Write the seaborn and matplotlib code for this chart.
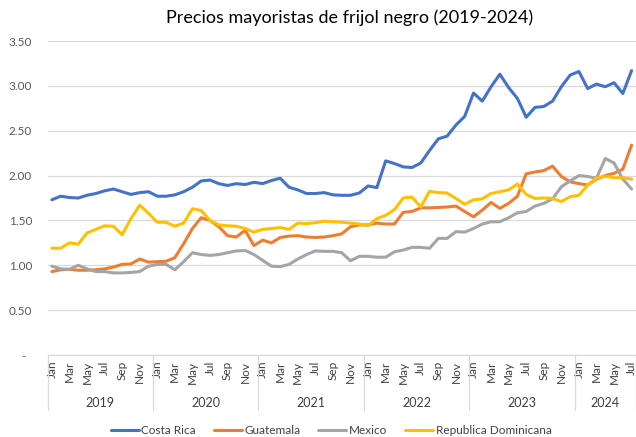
import seaborn as sns
import matplotlib.pyplot as plt
import matplotlib.transforms as mtransforms
import pandas as pd

# precios mensuales, ene 2019 - jul 2024
years = [2019, 2020, 2021, 2022, 2023, 2024]
month_names = ['Jan', 'Feb', 'Mar', 'Apr', 'May', 'Jun',
               'Jul', 'Aug', 'Sep', 'Oct', 'Nov', 'Dec']
months_last_year = 7

costa_rica = [1.73, 1.77, 1.755, 1.75, 1.78, 1.80, 1.83, 1.85, 1.82, 1.79, 1.81, 1.82,
              1.77, 1.77, 1.785, 1.82, 1.87, 1.94, 1.95, 1.91, 1.89, 1.91, 1.90, 1.925,
              1.91, 1.945, 1.97, 1.87, 1.84, 1.80, 1.80, 1.81, 1.785, 1.78, 1.78, 1.806,
              1.884, 1.866, 2.164, 2.134, 2.097, 2.09, 2.14, 2.28, 2.41, 2.44, 2.563, 2.66,
              2.92, 2.83, 2.99, 3.13, 2.98, 2.86, 2.65, 2.76, 2.77, 2.83, 2.99, 3.12,
              3.16, 2.97, 3.02, 2.99, 3.035, 2.915, 3.17]
guatemala = [0.93, 0.95, 0.955, 0.945, 0.945, 0.95, 0.96, 0.98, 1.01, 1.015, 1.07, 1.035,
             1.04, 1.045, 1.085, 1.24, 1.41, 1.53, 1.50, 1.43, 1.33, 1.315, 1.39, 1.22,
             1.28, 1.25, 1.31, 1.325, 1.33, 1.315, 1.31, 1.315, 1.33, 1.35, 1.43, 1.45,
             1.45, 1.47, 1.46, 1.46, 1.59, 1.60, 1.64, 1.64, 1.645, 1.65, 1.66, 1.60,
             1.54, 1.615, 1.70, 1.635, 1.69, 1.77, 2.02, 2.04, 2.055, 2.105, 1.99, 1.93,
             1.91, 1.895, 1.96, 2.0, 2.025, 2.07, 2.34]
mexico = [0.99, 0.96, 0.955, 1.0, 0.96, 0.93, 0.93, 0.915, 0.915, 0.92, 0.93, 0.99,
          1.01, 1.01, 0.95, 1.04, 1.14, 1.12, 1.11, 1.12, 1.14, 1.16, 1.165, 1.12,
          1.055, 0.99, 0.985, 1.01, 1.07, 1.12, 1.16, 1.155, 1.155, 1.14, 1.05, 1.10,
          1.10, 1.09, 1.09, 1.15, 1.17, 1.20, 1.20, 1.19, 1.30, 1.30, 1.375, 1.37,
          1.41, 1.46, 1.485, 1.485, 1.53, 1.585, 1.60, 1.66, 1.69, 1.74, 1.875, 1.94,
          2.0, 1.99, 1.97, 2.19, 2.14, 1.96, 1.85]
rep_dominicana = [1.19, 1.19, 1.25, 1.235, 1.36, 1.40, 1.44, 1.435, 1.34, 1.52, 1.67, 1.58,
                  1.48, 1.48, 1.435, 1.47, 1.63, 1.61, 1.50, 1.45, 1.44, 1.435, 1.41, 1.37,
                  1.40, 1.41, 1.42, 1.40, 1.47, 1.465, 1.475, 1.49, 1.485, 1.48, 1.47, 1.46,
                  1.44, 1.52, 1.556, 1.62, 1.75, 1.76, 1.65, 1.825, 1.81, 1.805, 1.745, 1.68,
                  1.73, 1.74, 1.80, 1.82, 1.84, 1.905, 1.79, 1.745, 1.75, 1.745, 1.71, 1.765,
                  1.78, 1.895, 1.97, 1.995, 1.975, 1.975, 1.96]

countries = ['Costa Rica', 'Guatemala', 'Mexico', 'Republica Dominicana']
colors = ['#4472C4', '#ED7D31', '#A5A5A5', '#FFC000']
y_ticks = [0, 0.5, 1.0, 1.5, 2.0, 2.5, 3.0, 3.5]
y_labels = ['-  ', '0.50', '1.00', '1.50', '2.00', '2.50', '3.00', '3.50']

# month labels for every period
periods = []
for y in years:
    n = months_last_year if y == years[-1] else 12
    for m in range(n):
        periods.append((y, month_names[m]))

rows = []
for name, vals in zip(countries, [costa_rica, guatemala, mexico, rep_dominicana]):
    for i, v in enumerate(vals):
        rows.append({'idx': i, 'pais': name, 'precio': v})
df = pd.DataFrame(rows)

sns.set_style('white')
plt.rcParams['font.family'] = ['Lato', 'DejaVu Sans']

fig = plt.figure(figsize=(6.36, 4.37), dpi=100)
ax = fig.add_axes([47.5 / 636, 1 - 355 / 437, 1 - 47.5 / 636, 314 / 437])

sns.lineplot(data=df, x='idx', y='precio', hue='pais', hue_order=countries,
             palette=colors, linewidth=2.2, ax=ax)
for line in ax.get_lines():
    line.set_solid_joinstyle('round')
    line.set_solid_capstyle('round')

n_periods = len(periods)
ax.set_xlim(-0.5, n_periods - 0.5)
ax.set_ylim(0, 3.5)
ax.set_yticks(y_ticks)
ax.set_yticklabels(y_labels, fontsize=8.5, color='#595959')
ax.yaxis.grid(True, color='#D9D9D9', linewidth=0.9)
ax.set_axisbelow(True)
for s in ['top', 'right', 'left']:
    ax.spines[s].set_visible(False)
ax.spines['bottom'].set_color('#D9D9D9')
ax.spines['bottom'].set_linewidth(0.9)

# every second month labelled, as excel does
tick_pos = list(range(0, n_periods, 2))
ax.set_xticks(tick_pos)
ax.set_xticklabels([periods[i][1] for i in tick_pos], rotation=90, fontsize=8.5,
                   color='#404040', va='top')
ax.tick_params(axis='x', length=0, pad=4)
ax.tick_params(axis='y', length=0, pad=11)
ax.set_xlabel('')
ax.set_ylabel('')

# year level of the category axis
trans = mtransforms.blended_transform_factory(ax.transData, ax.transAxes)
start = 0
for y in years:
    n = sum(1 for p in periods if p[0] == y)
    ax.text(start + (n - 1) / 2, -0.153, str(y), transform=trans, ha='center', va='center',
            fontsize=9, color='#404040')
    ax.plot([start - 0.5, start - 0.5], [0, -0.175], transform=trans, color='#D9D9D9',
            linewidth=0.9, clip_on=False)
    start += n
ax.plot([start - 0.5, start - 0.5], [0, -0.175], transform=trans, color='#D9D9D9',
        linewidth=0.9, clip_on=False)

fig.text(350 / 636, 1 - 18 / 437, 'Precios mayoristas de frijol negro (2019-2024)',
         ha='center', va='center', fontsize=13, color='#000000')

sns.move_legend(ax, 'center', bbox_to_anchor=(331 / 636, 1 - 431 / 437),
                bbox_transform=fig.transFigure, ncol=4, frameon=False, title=None,
                fontsize=8.5, handlelength=2.4, handletextpad=0.2, columnspacing=1.5,
                labelcolor='#404040')

fig.savefig('out.png', dpi=100)
